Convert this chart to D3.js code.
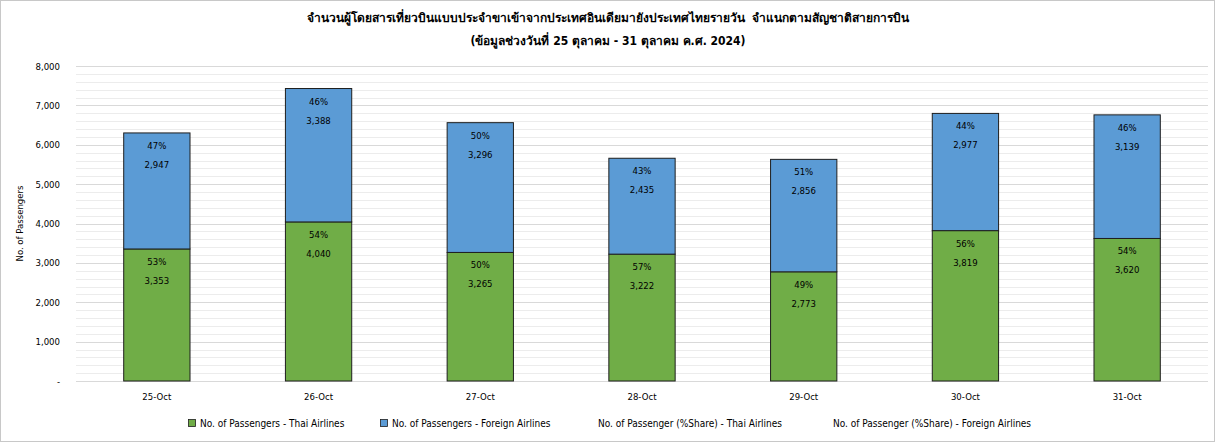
<!DOCTYPE html>
<html><head><meta charset="utf-8">
<script src="https://cdn.jsdelivr.net/npm/d3@7/dist/d3.min.js"></script>
<style>
body{margin:0;background:#fff;}
svg text{font-family:"DejaVu Sans Condensed","DejaVu Sans",sans-serif;fill:#000;}
</style></head>
<body><svg id="c" width="1216" height="443"></svg>
<script>
const categories = ["25-Oct","26-Oct","27-Oct","28-Oct","29-Oct","30-Oct","31-Oct"];
const thaiPassengers = [3353,4040,3265,3222,2773,3819,3620];
const foreignPassengers = [2947,3388,3296,2435,2856,2977,3139];
const thaiShare = [53,54,50,57,49,56,54];
const foreignShare = [47,46,50,43,51,44,46];
const yTicks = [0,1000,2000,3000,4000,5000,6000,7000,8000];
const titleLines = ["จำนวนผู้โดยสารเที่ยวบินแบบประจำขาเข้าจากประเทศอินเดียมายังประเทศไทยรายวัน  จำแนกตามสัญชาติสายการบิน","(ข้อมูลช่วงวันที่ 25 ตุลาคม - 31 ตุลาคม ค.ศ. 2024)"];
const legendLabels = ["No. of Passengers - Thai Airlines","No. of Passengers - Foreign Airlines","No. of Passenger (%Share) - Thai Airlines","No. of Passenger (%Share) - Foreign Airlines"];

(function(){
const svg = d3.select("#c");
const W=1216,H=443;
svg.append("rect").attr("x",0.5).attr("y",0.5).attr("width",W-2).attr("height",H-2).attr("fill","#fff").attr("stroke","#c8c8c8");

const pLeft=76,pRight=1208,pTop=66,pBottom=381;
const x = d3.scaleBand().domain(categories).range([pLeft,pRight]).paddingInner(0.59).paddingOuter(0.295);
const y = d3.scaleLinear().domain([0,8000]).range([pBottom,pTop]);

const minor = d3.range(200,8000,200).filter(v=>v%1000!==0);
svg.append("g").selectAll("line").data(minor).join("line")
  .attr("x1",pLeft).attr("x2",pRight).attr("y1",d=>Math.round(y(d))+0.5).attr("y2",d=>Math.round(y(d))+0.5)
  .attr("stroke","#ececec").attr("stroke-width",1);
svg.append("g").selectAll("line").data(yTicks).join("line")
  .attr("x1",pLeft).attr("x2",pRight).attr("y1",d=>Math.round(y(d))+0.5).attr("y2",d=>Math.round(y(d))+0.5)
  .attr("stroke","#d9d9d9").attr("stroke-width",1);

const ff="DejaVu Sans Condensed, DejaVu Sans, sans-serif";
const yAxis = d3.axisLeft(y).tickValues(yTicks).tickSize(0).tickPadding(0)
  .tickFormat(d=> d===0 ? "-" : d3.format(",")(d));
const ga = svg.append("g").attr("transform",`translate(${pLeft-16},0)`).call(yAxis);
ga.select(".domain").remove();
ga.selectAll("text").attr("font-size","9.5px").attr("fill","#000").style("font-family",ff);

const xAxis = d3.axisBottom(x).tickSize(0).tickPadding(0);
const gx = svg.append("g").attr("transform",`translate(0,${pBottom+12})`).call(xAxis);
gx.select(".domain").remove();
gx.selectAll("text").attr("font-size","9.5px").attr("fill","#000").style("font-family",ff);

const data = categories.map((c,i)=>({c,t:thaiPassengers[i],f:foreignPassengers[i],ts:thaiShare[i],fs:foreignShare[i]}));
const g = svg.append("g");
g.selectAll("rect.t").data(data).join("rect").attr("class","t")
  .attr("x",d=>x(d.c)).attr("width",x.bandwidth())
  .attr("y",d=>y(d.t)).attr("height",d=>y(0)-y(d.t))
  .attr("fill","#70ad47").attr("stroke","#1e1e1e").attr("stroke-width",1);
g.selectAll("rect.f").data(data).join("rect").attr("class","f")
  .attr("x",d=>x(d.c)).attr("width",x.bandwidth())
  .attr("y",d=>y(d.t+d.f)).attr("height",d=>y(d.t)-y(d.t+d.f))
  .attr("fill","#5b9bd5").attr("stroke","#1e1e1e").attr("stroke-width",1);

const fmt = d3.format(",");
function labels(sel, topVal, pct, val){
  sel.selectAll(null).data(data).join("text")
    .attr("x",d=>x(d.c)+x.bandwidth()/2).attr("y",d=>y(topVal(d))+16)
    .attr("text-anchor","middle").attr("font-size","9.5px").text(d=>pct(d)+"%");
  sel.selectAll(null).data(data).join("text")
    .attr("x",d=>x(d.c)+x.bandwidth()/2).attr("y",d=>y(topVal(d))+35)
    .attr("text-anchor","middle").attr("font-size","9.5px").text(d=>fmt(val(d)));
}
labels(svg.append("g"), d=>d.t, d=>d.ts, d=>d.t);
labels(svg.append("g"), d=>d.t+d.f, d=>d.fs, d=>d.f);

svg.append("text").attr("transform",`translate(23,${(pTop+pBottom)/2}) rotate(-90)`)
  .attr("text-anchor","middle").attr("font-size","9.5px").text("No. of Passengers");

svg.selectAll("text.title").data(titleLines).join("text").attr("class","title")
  .attr("x",608).attr("y",(d,i)=>22+i*23).attr("text-anchor","middle")
  .style("white-space","pre").attr("xml:space","preserve")
  .attr("font-size","12px").attr("font-weight","bold").text(d=>d);

const legX=[188,380,598,833];
const legColors=["#70ad47","#5b9bd5",null,null];
const lg = svg.append("g");
legendLabels.forEach((t,i)=>{
  if(legColors[i]){
    lg.append("rect").attr("x",legX[i]+0.5).attr("y",419.5).attr("width",7).attr("height",7)
      .attr("fill",legColors[i]).attr("stroke","#1e1e1e").attr("stroke-width",0.8);
  }
  lg.append("text").attr("x",legColors[i]?legX[i]+12:legX[i]).attr("y",427)
    .attr("font-size","10px").text(t);
});
})();
</script></body></html>
